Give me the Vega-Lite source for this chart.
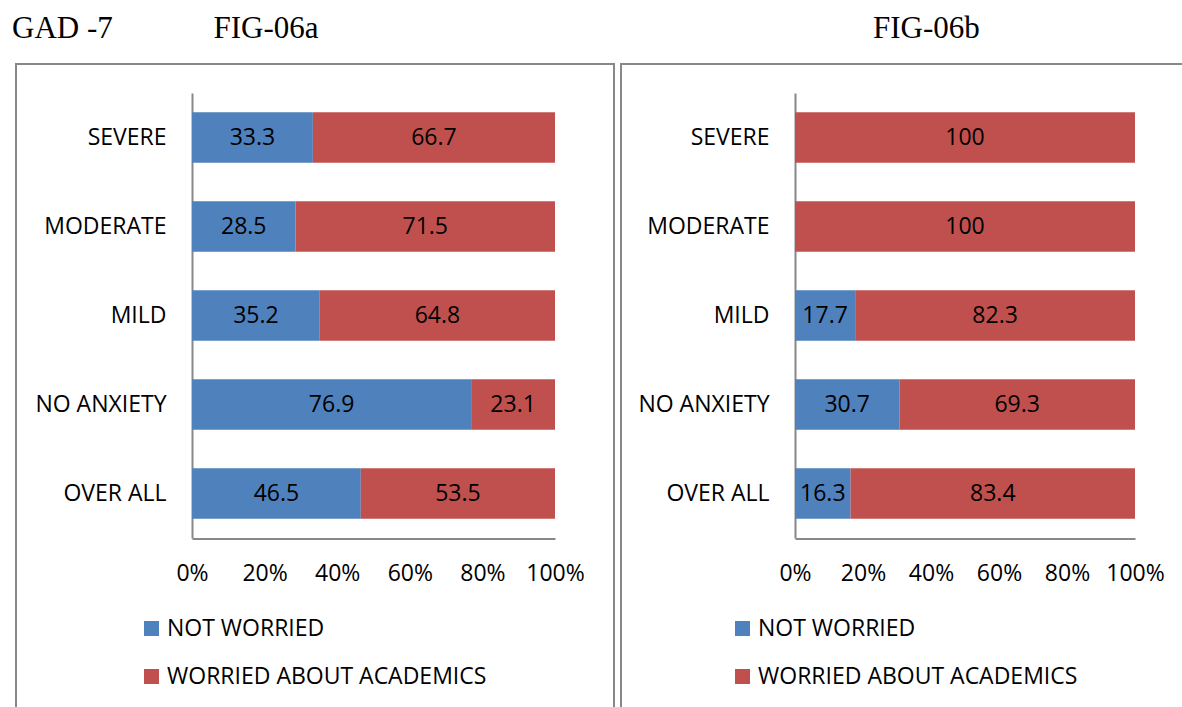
{
  "$schema": "https://vega.github.io/schema/vega-lite/v6.json",
  "padding": {"left": 11, "top": 12, "right": 0, "bottom": 0},
  "background": "white",
  "datasets": {
    "gad": [
      {"fig": "a", "level": "SEVERE", "cat": "NOT WORRIED", "value": 33.3},
      {"fig": "a", "level": "SEVERE", "cat": "WORRIED ABOUT ACADEMICS", "value": 66.7},
      {"fig": "a", "level": "MODERATE", "cat": "NOT WORRIED", "value": 28.5},
      {"fig": "a", "level": "MODERATE", "cat": "WORRIED ABOUT ACADEMICS", "value": 71.5},
      {"fig": "a", "level": "MILD", "cat": "NOT WORRIED", "value": 35.2},
      {"fig": "a", "level": "MILD", "cat": "WORRIED ABOUT ACADEMICS", "value": 64.8},
      {"fig": "a", "level": "NO ANXIETY", "cat": "NOT WORRIED", "value": 76.9},
      {"fig": "a", "level": "NO ANXIETY", "cat": "WORRIED ABOUT ACADEMICS", "value": 23.1},
      {"fig": "a", "level": "OVER ALL", "cat": "NOT WORRIED", "value": 46.5},
      {"fig": "a", "level": "OVER ALL", "cat": "WORRIED ABOUT ACADEMICS", "value": 53.5},
      {"fig": "b", "level": "SEVERE", "cat": "WORRIED ABOUT ACADEMICS", "value": 100},
      {"fig": "b", "level": "MODERATE", "cat": "WORRIED ABOUT ACADEMICS", "value": 100},
      {"fig": "b", "level": "MILD", "cat": "NOT WORRIED", "value": 17.7},
      {"fig": "b", "level": "MILD", "cat": "WORRIED ABOUT ACADEMICS", "value": 82.3},
      {"fig": "b", "level": "NO ANXIETY", "cat": "NOT WORRIED", "value": 30.7},
      {"fig": "b", "level": "NO ANXIETY", "cat": "WORRIED ABOUT ACADEMICS", "value": 69.3},
      {"fig": "b", "level": "OVER ALL", "cat": "NOT WORRIED", "value": 16.3},
      {"fig": "b", "level": "OVER ALL", "cat": "WORRIED ABOUT ACADEMICS", "value": 83.4}
    ]
  },
  "config": {
    "font": "Open Sans",
    "view": {"stroke": "#888888", "strokeWidth": 2},
    "concat": {"spacing": 5},
    "title": {"font": "Liberation Serif", "fontSize": 31, "fontWeight": "normal", "color": "black", "anchor": "start", "frame": "group", "offset": 19},
    "axis": {"labelFont": "Open Sans", "labelFontSize": 23, "labelColor": "black", "domainColor": "#888888", "domainWidth": 2, "ticks": false, "tickSize": 0, "grid": false, "labelOverlap": false, "labelFlush": false},
    "legend": {"labelFont": "Open Sans", "labelFontSize": 23, "labelColor": "black", "symbolType": "square", "symbolSize": 225, "symbolStrokeWidth": 0, "symbolOpacity": 1, "rowPadding": 24, "labelOffset": 4, "padding": 0, "labelLimit": 500}
  },
  "resolve": {"legend": {"color": "independent"}},
  "hconcat": [
    {
      "width": 598,
      "height": 644,
      "title": {"text": "GAD -7\u00a0\u00a0\u00a0\u00a0\u00a0\u00a0\u00a0\u00a0\u00a0\u00a0\u00a0\u00a0\u00a0FIG-06a", "dx": -4},
      "data": {"name": "gad"},
      "transform": [{"filter": "datum.fig == 'a'"}],
      "encoding": {
        "y": {"field": "level", "type": "nominal", "sort": ["SEVERE", "MODERATE", "MILD", "NO ANXIETY", "OVER ALL"], "scale": {"range": [29, 474], "paddingInner": 0.43, "paddingOuter": 0.215}, "axis": {"offset": -176, "labelPadding": 26, "title": null}}
      },
      "layer": [
        {
          "mark": {"type": "bar"},
          "encoding": {
            "x": {"field": "value", "type": "quantitative", "stack": "normalize", "scale": {"range": [176, 539]}, "axis": {"format": "%", "values": [0, 0.2, 0.4, 0.6, 0.8, 1], "offset": -169.5, "labelPadding": 24, "title": null}},
            "color": {"field": "cat", "type": "nominal", "scale": {"domain": ["NOT WORRIED", "WORRIED ABOUT ACADEMICS"], "range": ["#4F81BD", "#C0504D"]}, "legend": {"orient": "none", "legendX": 124, "legendY": 553, "title": null}},
            "order": {"field": "cat", "sort": "ascending"}
          }
        },
        {
          "mark": {"type": "text", "fontSize": 23, "color": "#000000", "font": "Open Sans"},
          "encoding": {
            "x": {"field": "value", "type": "quantitative", "stack": "normalize", "bandPosition": 0.5},
            "detail": {"field": "cat"},
            "order": {"field": "cat", "sort": "ascending"},
            "text": {"field": "value", "type": "quantitative"}
          }
        }
      ]
    },
    {
      "width": 562,
      "height": 644,
      "title": {"text": "FIG-06b", "dx": 252},
      "data": {"name": "gad"},
      "transform": [{"filter": "datum.fig == 'b'"}],
      "encoding": {
        "y": {"field": "level", "type": "nominal", "sort": ["SEVERE", "MODERATE", "MILD", "NO ANXIETY", "OVER ALL"], "scale": {"range": [29, 474], "paddingInner": 0.43, "paddingOuter": 0.215}, "axis": {"offset": -174, "labelPadding": 26, "title": null}}
      },
      "layer": [
        {
          "mark": {"type": "bar"},
          "encoding": {
            "x": {"field": "value", "type": "quantitative", "stack": "normalize", "scale": {"range": [174, 514]}, "axis": {"format": "%", "values": [0, 0.2, 0.4, 0.6, 0.8, 1], "offset": -169.5, "labelPadding": 24, "title": null}},
            "color": {"field": "cat", "type": "nominal", "scale": {"domain": ["NOT WORRIED", "WORRIED ABOUT ACADEMICS"], "range": ["#4F81BD", "#C0504D"]}, "legend": {"orient": "none", "legendX": 110, "legendY": 553, "title": null}},
            "order": {"field": "cat", "sort": "ascending"}
          }
        },
        {
          "mark": {"type": "text", "fontSize": 23, "color": "#000000", "font": "Open Sans"},
          "encoding": {
            "x": {"field": "value", "type": "quantitative", "stack": "normalize", "bandPosition": 0.5},
            "detail": {"field": "cat"},
            "order": {"field": "cat", "sort": "ascending"},
            "text": {"field": "value", "type": "quantitative"}
          }
        }
      ]
    }
  ]
}
